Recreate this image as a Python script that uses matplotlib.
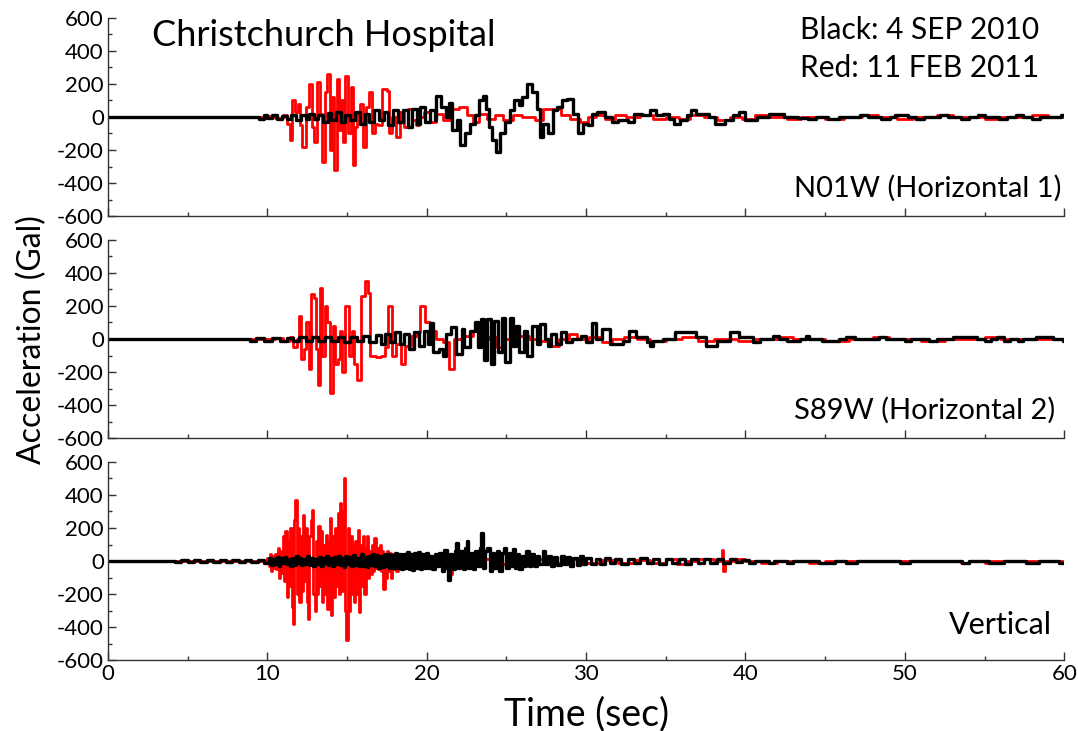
import matplotlib
matplotlib.use("Agg")
import matplotlib.pyplot as plt
from matplotlib.ticker import MultipleLocator

plt.rcParams['font.family'] = ['Lato', 'DejaVu Sans']
plt.rcParams['axes.unicode_minus'] = False

# (time sec, acceleration Gal) breakpoints, drawn as steps
h1_red = [(0, 0), (10.0, 5), (10.5, -5), (11.0, 10), (11.2, -40), (11.4, -140), (11.55, 100), (11.75, 30),
          (11.9, 80), (12.05, -50), (12.2, -180), (12.4, 60), (12.6, 200), (12.8, -60), (12.95, -150),
          (13.1, 210), (13.3, 20), (13.45, -270), (13.6, 150), (13.75, 260), (13.9, -200), (14.05, 120),
          (14.2, -320), (14.35, 230), (14.5, -80), (14.6, 100), (14.75, -150), (14.9, 250), (15.05, -100),
          (15.25, 180), (15.35, -290), (15.5, -60), (15.65, 20), (15.8, 80), (16.0, -180), (16.2, 60),
          (16.35, 150), (16.55, -100), (16.75, -40), (16.95, -50), (17.2, 170), (17.5, 160), (17.65, -100),
          (17.85, 0), (18.1, -120), (18.35, 30), (18.6, -60), (18.8, 50), (19.1, -20), (19.3, -50), (19.5, 0),
          (19.8, 30), (20.2, -30), (20.6, 20), (21.0, -20), (21.5, 50), (22.0, 60), (22.5, 10), (22.9, -30),
          (23.3, 20), (23.8, -10), (24.3, 10), (24.8, -20), (25.4, 10), (26.0, 0), (26.8, -20), (27.3, 50),
          (28.4, 10), (29.0, -10), (29.6, -30), (30.1, 0), (30.6, 10), (31.2, -10), (31.8, 10), (32.5, 0),
          (33.4, 10), (34.2, -10), (35.0, 0), (35.8, -10), (36.5, 10), (37.4, 0), (38.2, -20), (39.0, 0),
          (39.8, -10), (40.6, 10), (41.5, 0), (42.6, -10), (43.5, 0), (45.0, -10), (46.2, 0), (47.3, 10),
          (48.3, 0), (49.5, -10), (50.5, 0), (52.0, 10), (53.0, 0), (55.0, -10), (56.0, 0), (58.0, 10),
          (59.0, 0), (60, 0)]

h1_black = [(0, 0), (9.5, -15), (9.8, 10), (10.0, -5), (10.3, 15), (10.6, -10), (10.9, 5), (11.2, -10),
            (11.5, 15), (11.8, -20), (12.1, 10), (12.4, -10), (12.6, 20), (12.9, -15), (13.2, 10), (13.5, -30),
            (13.8, 25), (14.0, -20), (14.3, 30), (14.6, -30), (14.9, 10), (15.2, -20), (15.5, 30), (15.8, -40),
            (16.1, 20), (16.4, -30), (16.7, 40), (17.0, -20), (17.3, 30), (17.6, -50), (17.9, 40), (18.2, -30),
            (18.5, 40), (18.8, -60), (19.1, 50), (19.4, -40), (19.6, 60), (19.9, -30), (20.2, 40), (20.5, -20),
            (20.6, 130), (20.9, 60), (21.2, 0), (21.4, 85), (21.6, -80), (21.9, -20), (22.1, -170),
            (22.4, -100), (22.7, -40), (23.0, 10), (23.3, 100), (23.5, 130), (23.7, 50), (23.9, -60),
            (24.1, -140), (24.35, -210), (24.6, -100), (24.9, -30), (25.2, 40), (25.5, 100), (25.8, 70),
            (26.0, 120), (26.3, 200), (26.6, 150), (26.9, 50), (27.1, -120), (27.3, -40), (27.6, -100),
            (27.9, 40), (28.2, 60), (28.5, 100), (28.8, 110), (29.2, 20), (29.5, -100), (29.8, -40),
            (30.1, -50), (30.4, 20), (30.7, 30), (31.2, 0), (31.6, -30), (32.0, -20), (32.6, -30), (33.0, 20),
            (33.5, 10), (34.0, 40), (34.4, 10), (34.8, 20), (35.2, -10), (35.5, -40), (35.9, -20), (36.3, 10),
            (36.6, 40), (36.9, 20), (37.3, 20), (37.7, 0), (38.1, -40), (38.7, -20), (39.2, 10), (39.6, 30),
            (40.0, -20), (40.7, 0), (41.5, 20), (42.4, 0), (43.3, -5), (43.9, -10), (44.4, 0), (45.2, -10),
            (45.9, 0), (47.2, 10), (47.7, 0), (48.5, -10), (49.1, 0), (49.4, 10), (50.2, 0), (50.7, -10),
            (51.2, 0), (52.2, 10), (52.7, 0), (53.5, -10), (54.0, 0), (54.6, 15), (55.0, 0), (55.9, -10),
            (56.4, 0), (57.0, 10), (57.4, 0), (58.0, -10), (58.5, 0), (59.8, 10), (60, 10)]

h2_red = [(0, 0), (10.5, 5), (11.0, -10), (11.4, 10), (11.6, -50), (11.85, 0), (11.97, 140), (12.1, -120),
          (12.3, -60), (12.45, 100), (12.6, -180), (12.75, 270), (12.9, 250), (13.05, -60), (13.15, -280),
          (13.3, 310), (13.45, -100), (13.6, 200), (13.75, 100), (13.9, -330), (14.1, 80), (14.25, -150),
          (14.4, -120), (14.55, 50), (14.7, -200), (14.9, 200), (15.1, -100), (15.3, 50), (15.45, -150),
          (15.65, -250), (15.9, 260), (16.1, 350), (16.3, 280), (16.45, -100), (16.8, -110), (17.1, -100),
          (17.4, -50), (17.6, 200), (17.8, -100), (18.1, -30), (18.4, -150), (18.65, -40), (19.0, 20),
          (19.4, 40), (19.6, 200), (19.9, 100), (20.2, 50), (20.6, 0), (21.0, -20), (21.4, -180), (21.7, 0),
          (22.2, 20), (22.9, 50), (23.3, 0), (23.9, 10), (24.4, -50), (24.7, 0), (25.2, 20), (26.4, 0),
          (27.0, -10), (27.8, -40), (28.3, 0), (28.9, 30), (29.4, 0), (30.2, 10), (31.0, -20), (31.6, 0),
          (32.4, 10), (33.2, 0), (34.0, -10), (35.0, 0), (36.0, 10), (37.0, -10), (38.0, 0), (39.5, -10),
          (40.5, 0), (42.0, 10), (43.0, 0), (45.0, -10), (46.5, 0), (48.0, 10), (49.0, 0), (51.0, -10),
          (52.5, 0), (55.0, 10), (56.0, 0), (60, 0)]

h2_black = [(0, 0), (8.9, -10), (9.3, 5), (9.8, -10), (10.3, 5), (10.8, -10), (11.2, 5), (11.6, -15),
            (12.0, 10), (12.4, -10), (12.8, 15), (13.2, -10), (13.6, 15), (14.0, -15), (14.4, 10), (14.8, -20),
            (15.2, 15), (15.6, -15), (16.0, 20), (16.4, -20), (16.8, 25), (17.1, -30), (17.4, 30), (17.7, -20),
            (18.0, 40), (18.3, -30), (18.6, 30), (18.9, -60), (19.2, 40), (19.5, -40), (19.8, 50), (20.05, -30),
            (20.2, 95), (20.4, -80), (20.8, -60), (21.0, -100), (21.2, 30), (21.5, 70), (21.85, -90),
            (22.2, 60), (22.35, -50), (22.7, 50), (23.0, 100), (23.2, -50), (23.4, 120), (23.6, -130),
            (23.8, 120), (24.05, -150), (24.25, 110), (24.45, -80), (24.7, 130), (24.9, -140), (25.2, 130),
            (25.4, -40), (25.6, 80), (25.8, -80), (26.1, 50), (26.3, -100), (26.6, 80), (26.9, -30),
            (27.1, 90), (27.4, 0), (27.6, -40), (27.8, 30), (28.1, -30), (28.4, 40), (28.75, -20), (29.1, 0),
            (29.7, 20), (30.0, -20), (30.4, 95), (30.6, 0), (31.0, 60), (31.5, -30), (32.3, -10), (32.7, 50),
            (33.1, 10), (33.8, -20), (34.0, -40), (34.2, -10), (34.8, 0), (35.6, 40), (36.9, 10), (37.5, -40),
            (38.2, -10), (39.0, 40), (39.6, 10), (40.5, -20), (40.9, 0), (41.7, 20), (42.1, 0), (42.6, -10),
            (43.4, 0), (43.8, 20), (44.0, 0), (44.8, -10), (45.9, 0), (46.3, 15), (46.9, 0), (48.4, 10),
            (48.8, 0), (50.0, -10), (50.4, 0), (51.5, -10), (52.0, 0), (53.0, 10), (54.5, 0), (55.0, -10),
            (55.4, 0), (55.8, 10), (56.2, -10), (56.6, 0), (57.1, -10), (57.4, 0), (58.2, 10), (59.3, 0),
            (59.9, -10), (60, -10)]

ud_red = [(0, 0), (10.0, 20), (10.08, -30), (10.16, 40), (10.24, -60), (10.32, 30), (10.4, -40), (10.48, 40),
          (10.56, -50), (10.64, 80), (10.72, -100), (10.8, 60), (10.88, -70), (10.96, 150), (11.04, -120),
          (11.12, 180), (11.2, -220), (11.28, 120), (11.36, -150), (11.44, 200), (11.52, -280), (11.6, -380),
          (11.68, 250), (11.76, 370), (11.84, -200), (11.92, 200), (12.0, -250), (12.08, 150), (12.16, -180),
          (12.24, 280), (12.32, -120), (12.4, 200), (12.48, -250), (12.56, -350), (12.64, 150), (12.72, 250),
          (12.8, 310), (12.88, -200), (12.96, -300), (13.04, 120), (13.12, -200), (13.2, 210), (13.28, -150),
          (13.36, 180), (13.44, -250), (13.52, 100), (13.6, -200), (13.68, 160), (13.76, -290), (13.84, 120),
          (13.92, 260), (14.0, -330), (14.08, 150), (14.16, -220), (14.24, 200), (14.32, -150), (14.4, 290),
          (14.48, -200), (14.56, 350), (14.64, -180), (14.72, 300), (14.8, 500), (14.88, -300), (14.96, -480),
          (15.04, 200), (15.12, -300), (15.2, 150), (15.28, -200), (15.36, 100), (15.44, -250), (15.52, 120),
          (15.6, -200), (15.68, 190), (15.76, -310), (15.84, 100), (15.92, -150), (16.0, 150), (16.08, -200),
          (16.16, 80), (16.24, 150), (16.32, -100), (16.4, 60), (16.48, -80), (16.56, 100), (16.64, -60),
          (16.72, 140), (16.8, -40), (16.88, 80), (16.96, -50), (17.04, 100), (17.12, -60), (17.2, 60),
          (17.28, -170), (17.36, 40), (17.44, -100), (17.52, 60), (17.6, -60), (17.68, 50), (17.76, -100),
          (17.84, 40), (17.92, -50), (18.0, 30), (18.1, -60), (18.2, 40), (18.3, -40), (18.4, 30), (18.5, -50),
          (18.6, 40), (18.7, -30), (18.8, 20), (19.0, -30), (19.2, 30), (19.4, -20), (19.6, 20), (19.8, -30),
          (20.0, 20), (20.3, -20), (20.6, 20), (21.0, -30), (21.4, -80), (21.6, 20), (22.0, -20), (22.5, 20),
          (23.0, -20), (23.5, 10), (24.0, -20), (25, 10), (26, -10), (27, 10), (28, -10), (29, 10), (30, -10),
          (31, 5), (32, -10), (33, 5), (34, -10), (35, 10), (35.7, -20), (36.3, 0), (37, 10), (38, 0),
          (38.5, 67), (38.6, -60), (38.7, 0), (39.5, 10), (40, 0), (41, -10), (42, 0), (44, -10), (45, 0),
          (53.5, -15), (54, 0), (55, -15), (55.3, 0), (60, 0)]

ud_black = [(0, 0), (4.2, -8), (4.6, 6), (5.0, -8), (5.4, 6), (5.8, -8), (6.2, 6), (6.6, -8), (7.0, 6),
            (7.4, -8), (7.8, 6), (8.2, -8), (8.6, 6), (9.0, -8), (9.4, 6), (9.8, -10), (10.1, 20), (10.22, -25),
            (10.34, 15), (10.46, -20), (10.58, 25), (10.7, -30), (10.82, 20), (10.94, -15), (11.06, 25),
            (11.18, -20), (11.3, 15), (11.42, -30), (11.54, 20), (11.66, -25), (11.78, 30), (11.9, -15),
            (12.02, 20), (12.14, -25), (12.26, 15), (12.38, -20), (12.5, 30), (12.62, -25), (12.74, 20),
            (12.86, -30), (12.98, 15), (13.1, -20), (13.22, 25), (13.34, -30), (13.46, 20), (13.58, -15),
            (13.7, 30), (13.82, -25), (13.94, 20), (14.06, -30), (14.18, 25), (14.3, -20), (14.42, 30),
            (14.54, -25), (14.66, 20), (14.78, -35), (14.9, 30), (15.02, -20), (15.14, 25), (15.26, -30),
            (15.38, 35), (15.5, -25), (15.62, 20), (15.74, -30), (15.86, 40), (15.98, -30), (16.1, 25),
            (16.22, -35), (16.34, 30), (16.46, -25), (16.58, 40), (16.7, -30), (16.82, 35), (16.94, -40),
            (17.06, 30), (17.18, -35), (17.3, 40), (17.42, -30), (17.54, 45), (17.66, -40), (17.78, 35),
            (17.9, -45), (18.02, 50), (18.14, -40), (18.26, 45), (18.38, -50), (18.5, 40), (18.62, -45),
            (18.74, 55), (18.86, -50), (18.98, 45), (19.1, -55), (19.22, 50), (19.34, -45), (19.46, 55),
            (19.58, -50), (19.7, 45), (19.82, -40), (19.94, 50), (20.06, -40), (20.2, 30), (20.35, -50),
            (20.5, 40), (20.65, -30), (20.8, 50), (20.95, -60), (21.1, 67), (21.25, -40), (21.35, -115),
            (21.45, 40), (21.6, -50), (21.75, 60), (21.85, 107), (21.95, -40), (22.1, 60), (22.25, -50),
            (22.4, 80), (22.5, 120), (22.6, -40), (22.75, 50), (22.9, -50), (23.05, 60), (23.2, -30),
            (23.35, 80), (23.42, 170), (23.5, -40), (23.65, 60), (23.8, 80), (23.95, -60), (24.1, 50),
            (24.25, -40), (24.4, 60), (24.55, -60), (24.7, 50), (24.85, 80), (25.0, -40), (25.15, 50),
            (25.3, -30), (25.4, 70), (25.55, -40), (25.7, 40), (25.8, -50), (25.95, 30), (26.1, -30),
            (26.25, 60), (26.4, -30), (26.55, 40), (26.75, -30), (26.9, 30), (27.05, -20), (27.3, 60),
            (27.45, -20), (27.6, 30), (27.8, -30), (28.0, 25), (28.2, -25), (28.4, 30), (28.6, -20), (28.8, 25),
            (29.0, -30), (29.2, 20), (29.4, -25), (29.6, 30), (29.8, -20), (30.0, 20), (30.3, -20), (30.6, 15),
            (30.9, -20), (31.2, 20), (31.5, -15), (31.8, 10), (32.2, -20), (32.6, 15), (33.0, -15), (33.4, 20),
            (33.8, -10), (34.2, 15), (34.6, -20), (35.0, 10), (35.4, -15), (35.8, 15), (36.2, -20), (36.6, 10),
            (37.0, -15), (37.4, 15), (37.8, -10), (38.2, 10), (38.6, -10), (39.0, 10), (39.4, -5), (39.8, 5),
            (40.2, -10), (40.6, 0), (41.5, -10), (41.8, 0), (42.6, -10), (43.0, 0), (44.6, -10), (45.6, 0),
            (46.3, -10), (47.0, 0), (49.7, -10), (50.3, 0), (53.6, -10), (54.0, 0), (55.3, -10), (56.2, 0),
            (57.6, -10), (58.4, 0), (59.7, -10), (60, -10)]

panels = [(h1_red, h1_black, "N01W (Horizontal 1)"),
          (h2_red, h2_black, "S89W (Horizontal 2)"),
          (ud_red, ud_black, "Vertical")]

fig = plt.figure(figsize=(10.78, 7.31), dpi=100)
bottoms = [0.7045, 0.4008, 0.0971]
axes = []
for i, (red, black, name) in enumerate(panels):
    ax = fig.add_axes([0.1002, bottoms[i], 0.887, 0.2709])
    axes.append(ax)
    tr, ar = zip(*red)
    tb, ab = zip(*black)
    ax.plot(tr, ar, color="#ff0000", lw=2.0, drawstyle="steps-post")
    ax.plot(tb, ab, color="black", lw=2.4, drawstyle="steps-post")
    ax.set_xlim(0, 60)
    ax.set_ylim(-600, 600)
    ax.xaxis.set_major_locator(MultipleLocator(10))
    ax.xaxis.set_minor_locator(MultipleLocator(5))
    ax.yaxis.set_major_locator(MultipleLocator(200))
    ax.yaxis.set_minor_locator(MultipleLocator(100))
    ax.spines["top"].set_visible(False)
    ax.spines["right"].set_visible(False)
    for s in ("left", "bottom"):
        ax.spines[s].set_linewidth(1.0)
        ax.spines[s].set_color("#333333")
    ax.tick_params(which="major", direction="in", length=6, width=1, labelsize=16, pad=3, color="#333333")
    ax.tick_params(which="minor", direction="in", length=3, width=1, color="#333333")
    if i < 2:
        ax.tick_params(axis="x", labelbottom=False)
    ypos = 0.177 if i == 2 else 0.141
    ax.text(0.997 if i == 0 else (0.991 if i == 1 else 0.987), ypos, name, transform=ax.transAxes,
            ha="right", va="center", fontsize=21 if i < 2 else 22)

axes[0].text(0.046, 0.914, "Christchurch Hospital", transform=axes[0].transAxes,
             ha="left", va="center", fontsize=26)
axes[0].text(0.724, 0.94, "Black: 4 SEP 2010", transform=axes[0].transAxes,
             ha="left", va="center", fontsize=21.5)
axes[0].text(0.724, 0.747, "Red: 11 FEB 2011", transform=axes[0].transAxes,
             ha="left", va="center", fontsize=21.5)

fig.text(0.0297, 0.535, "Acceleration (Gal)", rotation=90, ha="center", va="center", fontsize=23)
fig.text(0.5445, 0.0233, "Time (sec)", ha="center", va="center", fontsize=27)

fig.savefig("out.png", dpi=100)
